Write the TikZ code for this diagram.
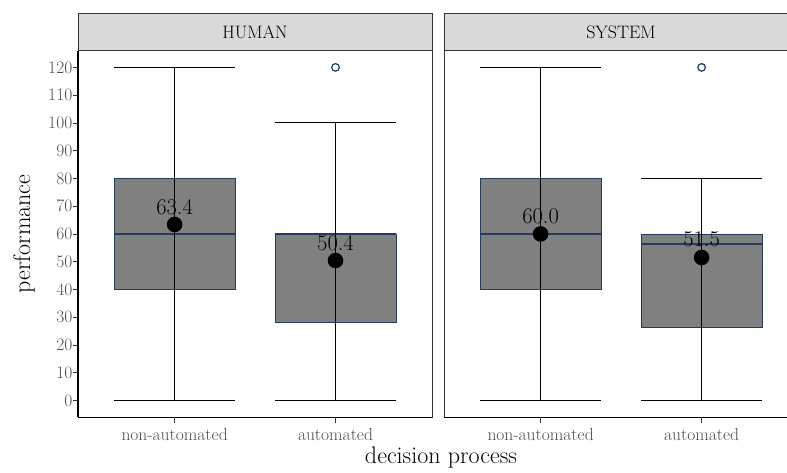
\documentclass[tikz,border=0pt]{standalone}
\usepackage{tikz}

\definecolor{navy}{HTML}{233B5C}
\definecolor{stripfill}{HTML}{D9D9D9}
\definecolor{frame}{HTML}{333333}
\definecolor{ticktext}{HTML}{4D4D4D}

\tikzset{
  panelframe/.style={draw=frame, line width=0.6pt},
  stripbox/.style={panelframe, fill=stripfill},
  axisline/.style={black, line width=1.1pt},
  tickmark/.style={frame, line width=0.7pt},
  boxbody/.style={fill=black!50, draw=navy, line width=0.7pt},
  medianline/.style={navy, line width=1.8pt},
  whisker/.style={black, line width=1.2pt},
  meandot/.style={fill=black},
  outlier/.style={draw=navy, fill=white, line width=1.2pt},
  ticklabel/.style={text=ticktext, font=\fontsize{17.5}{20}\selectfont},
  striplabel/.style={font=\fontsize{18}{21}\selectfont},
  meanlabel/.style={font=\fontsize{22.5}{25}\selectfont},
  axistitle/.style={font=\fontsize{24}{27}\selectfont}
}

\begin{document}
\begin{tikzpicture}[x=1pt,y=1pt]
\useasboundingbox (0,0) rectangle (787,472);

% y axis: 0 sits 71.6pt up, one unit of performance is 2.775pt
\begin{scope}[yshift=71.6pt, y=2.775pt]
\def\hw{60.4}

% facet strips and panel borders
\foreach \px/\name in {78/HUMAN, 444/SYSTEM} {
    \draw [stripbox] (\px,126) rectangle (\px+354,139.6);
    \node [striplabel] (strip-\name) at (\px+177,132.75) {\name};
    \draw [panelframe] (\px,-6) rectangle (\px+354,126);
    \draw [axisline] (\px,-6) -- (\px+354,-6);
}
\draw [axisline] (78,-6) -- (78,126);

% performance ticks
\foreach \y in {0,10,...,120} {
    \draw [tickmark] (72.5,\y) -- (78,\y) node (ytick\y) [ticklabel, left=2pt] {\y};
}

% decision process ticks
\foreach \cx/\lab [count=\i] in {174.6/non-automated, 335.5/automated, 540.6/non-automated, 701.6/automated} {
    \draw [tickmark] (\cx,-6) -- (\cx,-8.2);
    \node [ticklabel, text height=1.6ex] (xtick\i) at (\cx,-13.4) {\lab};
}

% boxes: centre / lower whisker / q1 / median / q3 / upper whisker / mean
\foreach \cx/\wlo/\qlo/\qmed/\qhi/\whi/\avg [count=\i] in {
    174.6/0/40/60/80/120/63.4,
    335.5/0/28/60/60/100/50.4,
    540.6/0/40/60/80/120/60.0,
    701.6/0/26.25/56.5/60/80/51.5} {
    \filldraw [boxbody] (\cx-\hw,\qlo) rectangle (\cx+\hw,\qhi);
    \draw [medianline] (\cx-\hw,\qmed) -- (\cx+\hw,\qmed);
    \draw [whisker] (\cx-\hw,\wlo) -- (\cx+\hw,\wlo);
    \draw [whisker] (\cx-\hw,\whi) -- (\cx+\hw,\whi);
    \draw [whisker] (\cx,\wlo) -- (\cx,\whi);
    \fill [meandot] (\cx,\avg) circle (7.8pt);
    \node [meanlabel] (avg\i) at (\cx,\avg+6.4) {\avg};
}

% outliers
\draw [outlier] (335.5,120) circle (3.8pt);
\draw [outlier] (701.6,120) circle (3.8pt);

% axis titles
\node [axistitle, rotate=90] (ytitle) at (24,60) {performance};
\node [axistitle] (xtitle) at (441,-20.6) {decision process};
\end{scope}

\end{tikzpicture}
\end{document}
